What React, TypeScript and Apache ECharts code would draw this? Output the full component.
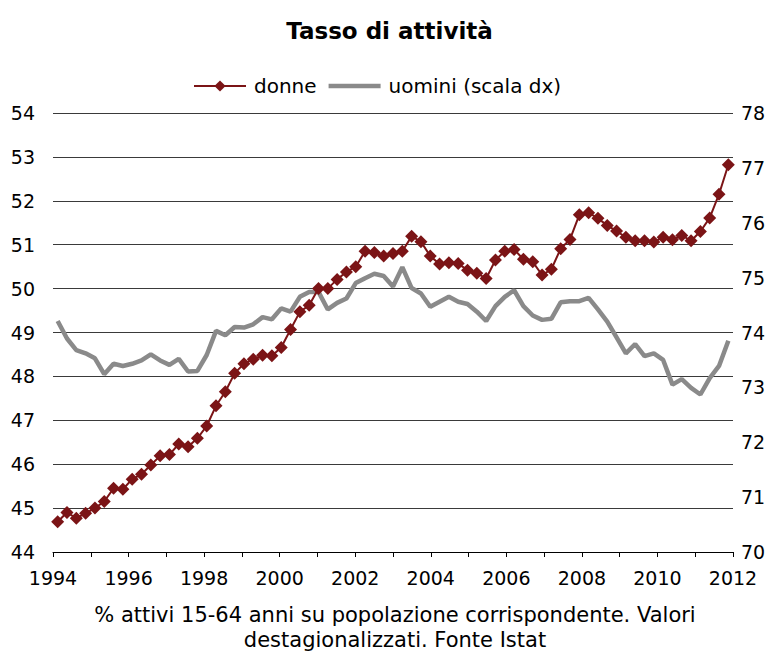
import React, { useEffect, useRef } from "react";
import * as echarts from "echarts";

const years = [1994, 1995, 1996, 1997, 1998, 1999, 2000, 2001, 2002, 2003, 2004, 2005, 2006, 2007, 2008, 2009, 2010, 2011, 2012];
const quarters = ["T1", "T2", "T3", "T4"];
const categories = years.flatMap((y) => quarters.map((q) => `${y} ${q}`)).slice(0, 73);

const donne = [
  44.69, 44.9, 44.77, 44.88, 45.0, 45.15, 45.45, 45.43, 45.66, 45.77,
  45.98, 46.19, 46.22, 46.46, 46.4, 46.59, 46.87, 47.33, 47.65, 48.07,
  48.29, 48.39, 48.48, 48.47, 48.66, 49.07, 49.47, 49.62, 50.0, 50.0,
  50.21, 50.38, 50.5, 50.85, 50.82, 50.74, 50.8, 50.85, 51.19, 51.07,
  50.74, 50.56, 50.59, 50.57, 50.42, 50.35, 50.23, 50.65, 50.85, 50.89,
  50.67, 50.61, 50.31, 50.44, 50.91, 51.12, 51.68, 51.73, 51.6, 51.44,
  51.31, 51.17, 51.09, 51.09, 51.06, 51.17, 51.11, 51.21, 51.09, 51.3,
  51.61, 52.15, 52.82,
];

const uomini = [
  74.21, 73.89, 73.68, 73.62, 73.53, 73.24, 73.43, 73.39, 73.43, 73.49,
  73.6, 73.49, 73.41, 73.52, 73.29, 73.3, 73.59, 74.03, 73.95, 74.1,
  74.09, 74.15, 74.28, 74.24, 74.44, 74.38, 74.65, 74.74, 74.74, 74.42,
  74.54, 74.62, 74.9, 74.99, 75.07, 75.03, 74.84, 75.19, 74.81, 74.71,
  74.47, 74.56, 74.65, 74.56, 74.52, 74.38, 74.21, 74.48, 74.65, 74.77,
  74.48, 74.31, 74.23, 74.25, 74.55, 74.57, 74.57, 74.63, 74.42, 74.2,
  73.91, 73.62, 73.79, 73.57, 73.62, 73.5, 73.05, 73.15, 72.99, 72.87,
  73.17, 73.39, 73.85,
];

const FONT = "DejaVu Sans, Verdana, sans-serif";

export default function App() {
  const ref = useRef<HTMLDivElement>(null);
  useEffect(() => {
    if (!ref.current) return;
    const chart = echarts.init(ref.current, undefined, { renderer: "svg" });
    chart.setOption({
      animation: false,
      backgroundColor: "#ffffff",
      textStyle: { fontFamily: FONT },
      title: {
        text: "Tasso di attività",
        left: "center",
        top: 14,
        textStyle: { fontFamily: FONT, fontSize: 23, fontWeight: "bold", color: "#000" },
      },
      legend: {
        top: 71,
        left: 188,
        itemWidth: 52,
        itemHeight: 14,
        itemGap: 12,
        textStyle: { fontFamily: FONT, fontSize: 20, color: "#000", padding: [0, 0, 0, 3] },
        data: [
          { name: "donne" },
          { name: "uomini (scala dx)", icon: "path://M0,0 L52,0 L52,4.5 L0,4.5 Z" },
        ],
      },
      grid: { left: 53, right: 46, top: 113, bottom: 103, containLabel: false },
      xAxis: [
        {
          type: "value",
          min: 1994,
          max: 2012,
          interval: 1,
          position: "bottom",
          axisLine: { show: true, lineStyle: { color: "#000", width: 1 } },
          axisTick: { show: true, length: 5, lineStyle: { color: "#000" } },
          splitLine: { show: false },
          axisLabel: {
            fontFamily: FONT,
            fontSize: 19,
            color: "#000",
            margin: 16,
            formatter: (v: number) => (v % 2 === 0 ? String(v) : ""),
          },
        },
        {
          type: "category",
          data: categories,
          boundaryGap: true,
          show: false,
        },
      ],
      yAxis: [
        {
          type: "value",
          min: 44,
          max: 54,
          interval: 1,
          axisLine: { show: false },
          axisTick: { show: false },
          splitLine: { show: true, lineStyle: { color: "#3a3a3a", width: 1 } },
          axisLabel: { fontFamily: FONT, fontSize: 19, color: "#000", margin: 18 },
        },
        {
          type: "value",
          min: 70,
          max: 78,
          interval: 1,
          position: "right",
          axisLine: { show: false },
          axisTick: { show: false },
          splitLine: { show: false },
          axisLabel: { fontFamily: FONT, fontSize: 19, color: "#000", margin: 8 },
        },
      ],
      series: [
        {
          name: "donne",
          type: "line",
          xAxisIndex: 1,
          yAxisIndex: 0,
          data: donne,
          symbol: "diamond",
          symbolSize: 13,
          showAllSymbol: true,
          lineStyle: { color: "#7b1416", width: 2 },
          itemStyle: { color: "#7b1416" },
          z: 3,
        },
        {
          name: "uomini (scala dx)",
          type: "line",
          xAxisIndex: 1,
          yAxisIndex: 1,
          data: uomini,
          symbol: "none",
          lineStyle: { color: "#8a8a8a", width: 4.5 },
          itemStyle: { color: "#8a8a8a" },
          z: 2,
        },
      ],
      graphic: [
        {
          type: "text",
          x: 395,
          y: 602,
          style: {
            text: "% attivi 15-64 anni su popolazione corrispondente. Valori\ndestagionalizzati. Fonte Istat",
            fontFamily: FONT,
            fontSize: 21,
            lineHeight: 25,
            fill: "#000",
            textAlign: "center",
          },
        },
      ],
    });
    return () => chart.dispose();
  }, []);
  return (
    <div
      ref={ref}
      style={{ position: "fixed", left: 0, top: 0, width: 779, height: 655, background: "#fff" }}
    />
  );
}
